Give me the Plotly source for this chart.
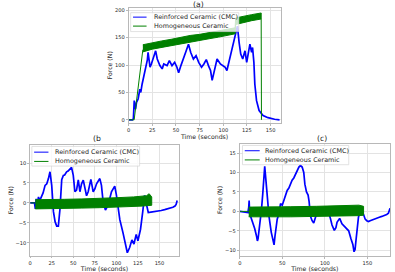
import plotly.graph_objects as go

W, H = 395, 272

# ---------------- data ----------------
# (a)
t_a_blue = [0, 4, 5, 5.9, 6.6, 7.3, 8.3, 10, 11.8, 12.8, 14.2, 16.3, 18, 19.8, 20.5, 21.5, 22.6, 24, 26.7, 28.5,
            30.2, 33, 35.4, 37.1, 40.6, 43, 45.8, 48.6, 51, 52.8, 55.2, 58, 60.8, 63.2, 65.6, 68.4, 71.2, 74,
            77, 79.5, 82, 84.5, 86.5, 88.2, 91.6, 93.4, 96.9, 100, 102, 103.8, 107.3, 110.8, 113.5, 114.9,
            116.7, 118.4, 120.5, 122.9, 124.7, 126.4, 128.1, 129.9, 130.9, 132.3, 133.3, 135.1, 137.8, 142,
            147.2, 154.2, 159.4]
F_a_blue = [0, 0, 2, 35, 25, 19.5, 32, 38, 56, 50, 65, 80, 95, 110, 123, 112, 96, 102, 117, 126,
            111, 99, 93, 102, 99, 108, 99, 105, 96, 86, 99, 111, 126, 138, 123, 111, 117, 105,
            96, 102, 110, 98, 90, 72, 96, 111, 102, 98, 96, 90, 117, 138, 165, 171,
            141, 120, 111, 126, 105, 126, 138, 123, 132, 105, 65, 35, 17, 8,
            3.9, 1, 0]
t_a_green = [0, 5.8, 15]
F_a_green = [0, 0, 128]
t_a_band = [15, 25, 35, 45, 55, 65, 75, 85, 95, 105, 112.5, 113, 120, 130, 140]
up_a = [137, 141, 144, 147, 151, 154, 156, 159, 162, 165, 168, 186, 189, 192, 195]
lo_a = [124, 129, 132, 135, 139, 142, 145, 148, 151, 155, 157, 174, 177, 181, 184]
t_a_drop = [140, 140.3]
F_a_drop = [184, 0]

# (b)
t_b_blue = [0, 5, 6, 7, 8, 9.7, 11, 13.5, 15, 17.3, 19.3, 21.2, 23, 25, 27, 28.9, 30.8, 32.7, 34.6, 36.6,
            38.5, 40, 42.3, 44, 46.2, 48, 50, 51.9, 53.8, 55.8, 57.7, 59.6, 61.6, 63.5, 65.4, 67.3, 70.4,
            73.1, 75, 77, 80.8, 82.7, 84.6, 87.3, 90.4, 94.3, 98.1, 100, 102, 104, 107.7, 110.4, 112.7,
            115.4, 118, 120.4, 123, 125, 128, 130.7, 132.7, 134, 135.7, 137, 140, 144.4, 148, 152, 156,
            159.7, 163, 165.5, 168, 169.3, 170.5]
F_b_blue = [0, 0, -1.5, 1, -0.5, 1.5, 0.5, 1.9, 2.5, 4.4, 4.8, 6.1, 7.8, 4.4, -2.2, -4.7, -5.8, -5.8, -1.5, 5.8,
            6.9, 7, 7.8, 8, 8.6, 8.9, 6.9, 2.8, 3.2, 5.8, 2.8, 4.8, 5.7, 3.2, 1.8, 2.8, 5.9,
            2.8, 3.5, 4.8, 6.1, 4.4, 0.3, -1.8, -0.6, 2.8, 4.2, 2.0, -1.8, -4.2, -7.5, -10.2, -12.5,
            -11.2, -9.3, -10.3, -7.9, -9.5, -6.6, -2.0, 1.9, 0.5, -1.5, -2.4, -2.3, -2.2, -2.1, -1.9, -1.7,
            -1.5, -1.3, -1.1, -0.8, -0.4, 0.6]
t_b_green = [0, 6]
F_b_green = [0, 0]
t_b_band = [6, 20, 40, 60, 80, 100, 120, 130, 135, 138, 140, 141]
up_b = [0.8, 0.8, 0.9, 1.0, 1.1, 1.3, 1.5, 1.7, 1.8, 2.3, 1.9, 1.5]
lo_b = [-1.5, -1.5, -1.4, -1.3, -1.2, -1.0, -0.9, -0.8, -0.7, -0.7, -0.6, -0.6]

# (c)
t_c_blue = [0, 8, 9.5, 10.5, 11, 11.5, 13.6, 15.5, 17.5, 19.5, 20.7, 21.5, 23.8, 25.5, 27, 28.5, 29.3, 31.6,
            33, 34.3, 37, 39.4, 40.3, 41.3, 42.5, 44, 46, 47.9, 49.9, 51.8, 53.5, 55.7, 57.7, 59.6, 61.5,
            63.5, 65.5, 67.4, 69.5, 71.3, 73.3, 75.2, 76.5, 78.4, 80.3, 81.5, 83, 85, 86.9, 89, 90.8, 94,
            98.6, 101.7, 104.4, 106.5, 108.4, 111.1, 113, 114.3, 117.4, 120.1, 122, 124, 126, 128, 130.6,
            132.9, 134.3, 135.5, 136.8, 138.4, 139.5, 141, 143.5, 145.5, 147.4, 149.3, 151.3, 153.2, 155.2,
            158, 161, 164, 166.9, 170, 172.7, 174.7, 175.8, 176.6]
F_c_blue = [0, -0.2, -0.3, 1.0, 2.8, -0.5, -1.8, -3.0, -4.4, -6.2, -7.6, -7.0, -3.2, 0.5, 4.5, 10.5, 11.6, 5.8,
            2.4, -1.2, -5.4, -8.2, -8.6, -6.5, -4.4, -2.0, -0.6, 2.0, 1.6, 2.9, 3.5, 5.4, 6.0, 7.2, 8.0,
            8.6, 9.6, 10.4, 11.4, 11.8, 11.4, 10.0, 7.0, 5.0, 4.2, 2.5, -1.2, -2.4, -3.0, -1.5, -0.7, -0.6,
            -0.6, 0.3, -0.3, -1.8, -3.5, -4.9, -4.2, -2.8, -1.8, -3.2, -3.6, -4.2, -4.6, -5.0, -7.0,
            -8.5, -10.4, -9.8, -7.0, -3.5, -1.5, -0.3, 0.0, -0.8, -2.0, -2.4, -2.6, -2.4, -2.2,
            -2.0, -1.8, -1.5, -1.3, -1.1, -0.8, -0.5, 0.2, 0.8]
t_c_green = [0, 10.5]
F_c_green = [0, 0]
t_c_band = [10.5, 30, 60, 90, 120, 140, 145.5]
up_c = [1.1, 1.1, 1.2, 1.3, 1.5, 1.6, 1.3]
lo_c = [-1.4, -1.4, -1.4, -1.3, -1.2, -1.1, -1.0]

labels = ["Reinforced Ceramic (CMC)", "Homogeneous Ceramic"]
titles = ["(a)", "(b", "(c)"]
xticks_a = [0, 25, 50, 75, 100, 125, 150]
yticks_a = [0, 50, 100, 150, 200]
xticks_b = [0, 25, 50, 75, 100, 125, 150]
yticks_b = [-10, -5, 0, 5, 10]
xticks_c = [0, 50, 100, 150]
yticks_c = [-10, -5, 0, 5, 10, 15]

# ---------------- style ----------------
BLUE = "#0000ff"
GREEN = "#008000"
FONT = "DejaVu Sans"
TXT = "#262626"
SPINE = "#b8b8b8"
GRID = "#e3e3e3"


def fx(x):
    return x / W


def fy(y):
    return 1 - y / H


panels = [
    dict(box=(127.3, 6.7, 280, 122.3), xr=[0, 160.5], yr=[-5.5, 204.7], xt=xticks_a, yt=yticks_a,
         blue=(t_a_blue, F_a_blue), green=[(t_a_green, F_a_green), (t_a_drop, F_a_drop)],
         band=(t_a_band, up_a, lo_a),
         title=(197.5, 3.8), leg=dict(box=(129.3, 11.7, 238, 30.7), s=(131.7, 145.3), rows=(16.2, 25.2), tx=150.5)),
    dict(box=(28.3, 144.4, 177.7, 255.5), xr=[0, 172.4], yr=[-13.2, 14.55], xt=xticks_b, yt=yticks_b,
         blue=(t_b_blue, F_b_blue), green=[(t_b_green, F_b_green)],
         band=(t_b_band, up_b, lo_b),
         title=(95, 138), leg=dict(box=(30, 146, 138.3, 165.7), s=(32.3, 46.7), rows=(151.7, 161), tx=51.7)),
    dict(box=(239, 143.3, 390, 256), xr=[0, 176.6], yr=[-11.5, 17.4], xt=xticks_c, yt=yticks_c,
         blue=(t_c_blue, F_c_blue), green=[(t_c_green, F_c_green)],
         band=(t_c_band, up_c, lo_c),
         title=(321.7, 138.3), leg=dict(box=(241.7, 145, 348.5, 164.3), s=(244, 259), rows=(150.3, 159.5), tx=262.7)),
]

fig = go.Figure()
layout = dict(width=W, height=H, margin=dict(l=0, r=0, t=0, b=0),
              paper_bgcolor="white", plot_bgcolor="white", showlegend=False,
              font=dict(family=FONT, color=TXT))
shapes, annotations = [], []

for i, p in enumerate(panels):
    n = "" if i == 0 else str(i + 1)
    xa, ya = "x" + n, "y" + n
    x0, y0, x1, y1 = p["box"]
    common = dict(showline=True, mirror=True, linecolor=SPINE, linewidth=0.8,
                  showgrid=True, gridcolor=GRID, gridwidth=0.6, zeroline=False,
                  ticks="outside", ticklen=2, tickwidth=0.8, tickcolor=SPINE,
                  tickfont=dict(size=5.1, family=FONT, color=TXT))
    layout["xaxis" + n] = dict(common, domain=[fx(x0), fx(x1)], anchor=ya, range=p["xr"],
                               tickvals=p["xt"], ticktext=[str(v) for v in p["xt"]],
                               title=dict(text="Time (seconds)", font=dict(size=6.2), standoff=1))
    layout["yaxis" + n] = dict(common, domain=[fy(y1), fy(y0)], anchor=xa, range=p["yr"],
                               tickvals=p["yt"], ticktext=[("\u2212" + str(-v)) if v < 0 else str(v) for v in p["yt"]],
                               title=dict(text="Force (N)", font=dict(size=6.2), standoff=1))
    t, F = p["blue"]
    fig.add_trace(go.Scatter(x=t, y=F, mode="lines", line=dict(color=BLUE, width=1.7),
                             xaxis=xa, yaxis=ya, name=labels[0]))
    tb, up, lo = p["band"]
    fig.add_trace(go.Scatter(x=list(tb) + list(tb[::-1]), y=list(up) + list(lo[::-1]), mode="lines",
                             fill="toself", fillcolor=GREEN, line=dict(color=GREEN, width=1.0),
                             xaxis=xa, yaxis=ya, name=labels[1]))
    for (tg, Fg) in p["green"]:
        fig.add_trace(go.Scatter(x=tg, y=Fg, mode="lines", line=dict(color=GREEN, width=1.0),
                                 xaxis=xa, yaxis=ya, name=labels[1]))
    # panel title
    tx, ty = p["title"]
    annotations.append(dict(x=fx(tx), y=fy(ty), xref="paper", yref="paper", text=titles[i], showarrow=False,
                            xanchor="center", yanchor="middle", font=dict(size=7.7, family=FONT, color=TXT)))
    # legend
    lg = p["leg"]
    bx0, by0, bx1, by1 = lg["box"]
    shapes.append(dict(type="rect", xref="paper", yref="paper", x0=fx(bx0), x1=fx(bx1), y0=fy(by1), y1=fy(by0),
                       fillcolor="rgba(255,255,255,0.8)", line=dict(color="#d6d6d6", width=0.7), layer="above"))
    for k, (col, ry) in enumerate(zip([BLUE, GREEN], lg["rows"])):
        shapes.append(dict(type="line", xref="paper", yref="paper", x0=fx(lg["s"][0]), x1=fx(lg["s"][1]),
                           y0=fy(ry), y1=fy(ry), line=dict(color=col, width=1.0), layer="above"))
        annotations.append(dict(x=fx(lg["tx"]), y=fy(ry), xref="paper", yref="paper", text=labels[k],
                                showarrow=False, xanchor="left", yanchor="middle",
                                font=dict(size=6.4, family=FONT, color=TXT)))

layout["shapes"] = shapes
layout["annotations"] = annotations
fig.update_layout(**layout)
fig.write_html("out.html")
